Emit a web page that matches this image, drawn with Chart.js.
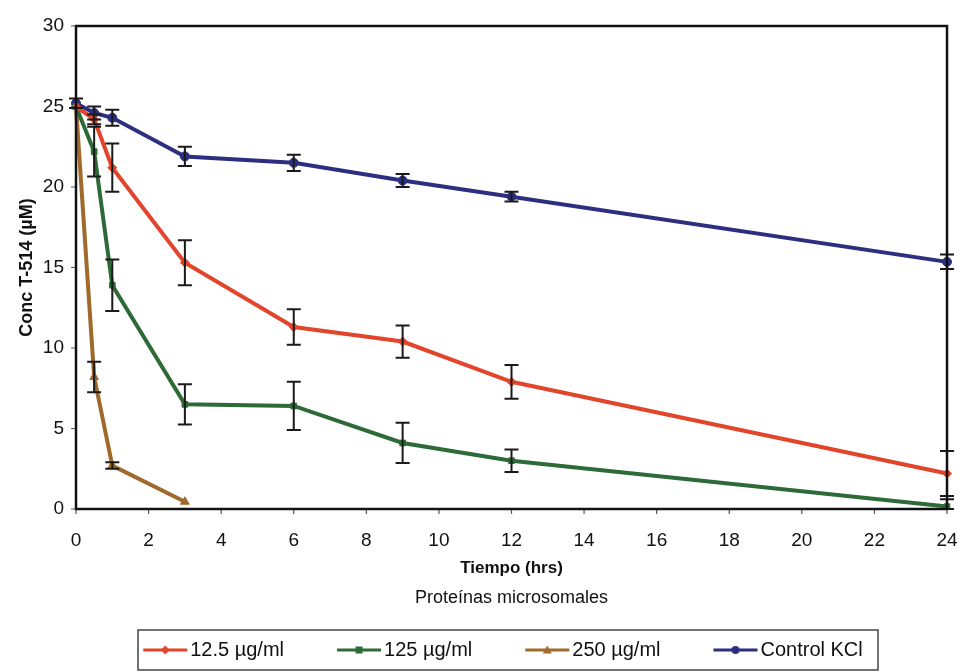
<!DOCTYPE html>
<html>
<head>
<meta charset="utf-8">
<script src="https://cdn.jsdelivr.net/npm/chart.js@4/dist/chart.umd.min.js"></script>
<style>
  html, body { margin: 0; padding: 0; background: #ffffff; }
  #wrap { width: 963px; height: 672px; }
</style>
</head>
<body>
<div id="wrap"><canvas id="chart"></canvas></div>
<script>
// time points (hrs)
const timeHrs = [0, 0.5, 1, 3, 6, 9, 12, 24];
const time250 = [0, 0.5, 1, 3];

// Conc T-514 (uM) and error bars for each treatment
const conc12_5 = [25.0, 24.2, 21.2, 15.3, 11.3, 10.4, 7.9, 2.2];
const err12_5  = [0, 0.3, 1.5, 1.4, 1.1, 1.0, 1.05, 1.4];
const conc125  = [25.0, 22.2, 13.9, 6.5, 6.4, 4.1, 3.0, 0.15];
const err125   = [0, 1.55, 1.6, 1.25, 1.5, 1.25, 0.7, 0.45];
const conc250  = [25.0, 8.2, 2.7, 0.45];
const err250   = [0, 0.95, 0.2, 0];
const concKCl  = [25.2, 24.6, 24.3, 21.9, 21.5, 20.4, 19.4, 15.35];
const errKCl   = [0.3, 0.4, 0.5, 0.6, 0.5, 0.4, 0.3, 0.45];

const seriesLabels = ["12.5 \u00b5g/ml", "125 \u00b5g/ml", "250 \u00b5g/ml", "Control KCl"];
const xTicks = [0, 2, 4, 6, 8, 10, 12, 14, 16, 18, 20, 22, 24];
const yTicks = [0, 5, 10, 15, 20, 25, 30];

const colRed = "#e2452b", colGreen = "#2d6a37", colBrown = "#a06a2c", colBlue = "#2c2f80";
const FONT = "Liberation Sans";

function pts(xs, ys, es) {
    return xs.map((x, i) => ({ x: x, y: ys[i], e: es[i] }));
}

function makeSeries(label, data, color, style, radius) {
    return {
        label: label,
        data: data,
        showLine: true,
        borderColor: color,
        backgroundColor: color,
        borderWidth: 4,
        pointStyle: style,
        pointRadius: radius,
        pointBorderWidth: 1,
        tension: 0,
        clip: false
    };
}

// line+marker image for legend entries (blank strip on the left gives item spacing)
function legendIcon(color, style) {
    const c = document.createElement("canvas");
    c.width = 96; c.height = 12;
    const g = c.getContext("2d");
    g.strokeStyle = color; g.fillStyle = color; g.lineWidth = 3;
    g.beginPath(); g.moveTo(51, 6); g.lineTo(95, 6); g.stroke();
    const m = 73;
    g.beginPath();
    if (style === "rectRot") { g.moveTo(m, 1.5); g.lineTo(m + 4.5, 6); g.lineTo(m, 10.5); g.lineTo(m - 4.5, 6); }
    else if (style === "triangle") { g.moveTo(m, 1.5); g.lineTo(m + 4.5, 9.5); g.lineTo(m - 4.5, 9.5); }
    else if (style === "rect") { g.rect(m - 3.5, 2.5, 7, 7); }
    else { g.arc(m, 6, 4, 0, Math.PI * 2); }
    g.fill();
    return c;
}

const errorBars = {
    id: "errorBars",
    afterDatasetsDraw(chart) {
        const { ctx, scales: { x, y } } = chart;
        ctx.save();
        ctx.strokeStyle = "#1a1a1a";
        ctx.lineWidth = 2;
        chart.data.datasets.forEach(ds => {
            ds.data.forEach(p => {
                if (!p.e) return;
                const px = x.getPixelForValue(p.x);
                const top = y.getPixelForValue(p.y + p.e);
                const bot = y.getPixelForValue(Math.max(p.y - p.e, 0));
                ctx.beginPath();
                ctx.moveTo(px, top); ctx.lineTo(px, bot);
                ctx.moveTo(px - 7, top); ctx.lineTo(px + 7, top);
                ctx.moveTo(px - 7, bot); ctx.lineTo(px + 7, bot);
                ctx.stroke();
            });
        });
        ctx.restore();
    },
    afterDraw(chart) {
        const { ctx, chartArea: a, legend, scales: { x, y } } = chart;
        ctx.save();
        // outer tick marks
        ctx.strokeStyle = "#555";
        ctx.lineWidth = 1.2;
        ctx.beginPath();
        xTicks.forEach(v => {
            const px = x.getPixelForValue(v);
            ctx.moveTo(px, a.bottom); ctx.lineTo(px, a.bottom + 5);
        });
        yTicks.forEach(v => {
            const py = y.getPixelForValue(v);
            ctx.moveTo(a.left - 5, py); ctx.lineTo(a.left, py);
        });
        ctx.stroke();
        // plot frame
        ctx.strokeStyle = "#111";
        ctx.lineWidth = 2.5;
        ctx.strokeRect(a.left, a.top, a.right - a.left, a.bottom - a.top);
        // legend box
        ctx.lineWidth = 1.5;
        ctx.strokeStyle = "#444";
        ctx.strokeRect(138, legend.top, 740, legend.height);
        ctx.restore();
    }
};

const icons = [legendIcon(colRed, "rectRot"), legendIcon(colGreen, "rect"),
               legendIcon(colBrown, "triangle"), legendIcon(colBlue, "circle")];

new Chart(document.getElementById("chart"), {
    type: "scatter",
    data: {
        datasets: [
            makeSeries(seriesLabels[0], pts(timeHrs, conc12_5, err12_5), colRed, "rectRot", 4.5),
            makeSeries(seriesLabels[1], pts(timeHrs, conc125, err125), colGreen, "rect", 4),
            makeSeries(seriesLabels[2], pts(time250, conc250, err250), colBrown, "triangle", 5),
            makeSeries(seriesLabels[3], pts(timeHrs, concKCl, errKCl), colBlue, "circle", 4.5)
        ]
    },
    options: {
        responsive: true,
        maintainAspectRatio: false,
        animation: false,
        layout: { padding: { left: 16, right: 16, top: 26, bottom: 2 } },
        scales: {
            x: {
                type: "linear",
                min: 0,
                max: 24,
                afterBuildTicks: s => { s.ticks = xTicks.map(v => ({ value: v })); },
                afterFit: s => { s.height = 69.4; },
                grid: { display: false, drawTicks: true, tickLength: 18 },
                border: { display: false },
                ticks: { color: "#111", font: { family: FONT, size: 19 }, padding: 2 },
                title: {
                    display: true,
                    text: "Tiempo (hrs)",
                    color: "#111",
                    font: { family: FONT, size: 17, weight: "bold" },
                    padding: { top: 6, bottom: 0 }
                }
            },
            y: {
                min: 0,
                max: 30,
                afterBuildTicks: s => { s.ticks = yTicks.map(v => ({ value: v })); },
                afterFit: s => { s.width = 60; },
                grid: { display: false, drawTicks: false },
                border: { display: false },
                ticks: { color: "#111", font: { family: FONT, size: 19 }, padding: 12 },
                title: {
                    display: true,
                    text: "Conc T-514 (\u00b5M)",
                    color: "#111",
                    font: { family: FONT, size: 18, weight: "bold" },
                    padding: { top: 0, bottom: 0 }
                }
            }
        },
        plugins: {
            legend: {
                position: "bottom",
                labels: {
                    usePointStyle: true,
                    pointStyleWidth: 80,
                    color: "#111",
                    padding: 10,
                    font: { family: FONT, size: 20 },
                    generateLabels: chart => chart.data.datasets.map((ds, i) => ({
                        text: ds.label,
                        pointStyle: icons[i],
                        fontColor: "#111",
                        datasetIndex: i,
                        lineWidth: 0,
                        strokeStyle: "transparent",
                        fillStyle: ds.borderColor
                    }))
                }
            },
            subtitle: {
                display: true,
                position: "bottom",
                fullSize: false,
                weight: 500,
                text: "Prote\u00ednas microsomales",
                color: "#111",
                font: { family: FONT, size: 18, weight: "normal" },
                padding: { top: 9, bottom: 21 }
            },
            tooltip: { enabled: false }
        }
    },
    plugins: [errorBars]
});
</script>
</body>
</html>
